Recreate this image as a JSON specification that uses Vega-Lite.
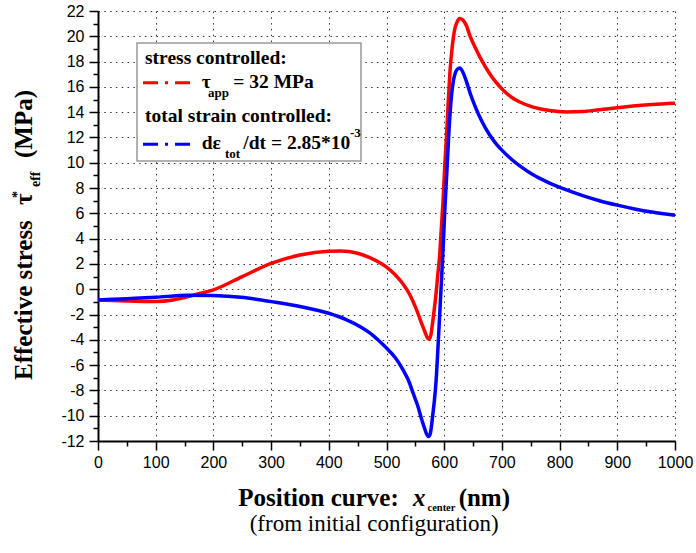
{
  "$schema": "https://vega.github.io/schema/vega-lite/v6.json",
  "width": 577,
  "height": 430,
  "autosize": {"type": "none"},
  "padding": {"left": 98, "top": 11, "right": 21, "bottom": 112},
  "background": "white",
  "config": {"view": {"stroke": null}},
  "resolve": {"axis": {"x": "independent", "y": "independent"}},
  "datasets": {
    "curves": [
      {"s": "stress", "x": 0, "y": -0.85}, {"s": "stress", "x": 50, "y": -0.93}, {"s": "stress", "x": 100, "y": -0.97},
      {"s": "stress", "x": 130, "y": -0.85}, {"s": "stress", "x": 150, "y": -0.65}, {"s": "stress", "x": 175, "y": -0.35},
      {"s": "stress", "x": 200, "y": -0.05}, {"s": "stress", "x": 250, "y": 1.0}, {"s": "stress", "x": 300, "y": 2.05},
      {"s": "stress", "x": 350, "y": 2.7}, {"s": "stress", "x": 400, "y": 3.0}, {"s": "stress", "x": 420, "y": 3.02},
      {"s": "stress", "x": 450, "y": 2.85}, {"s": "stress", "x": 471, "y": 2.5}, {"s": "stress", "x": 490, "y": 2.05},
      {"s": "stress", "x": 500, "y": 1.75}, {"s": "stress", "x": 515, "y": 1.15}, {"s": "stress", "x": 529, "y": 0.4},
      {"s": "stress", "x": 540, "y": -0.4}, {"s": "stress", "x": 551, "y": -1.5}, {"s": "stress", "x": 560, "y": -2.6},
      {"s": "stress", "x": 566, "y": -3.3}, {"s": "stress", "x": 571, "y": -3.85}, {"s": "stress", "x": 574, "y": -3.95},
      {"s": "stress", "x": 577, "y": -3.6}, {"s": "stress", "x": 580, "y": -2.6}, {"s": "stress", "x": 583, "y": -1.5},
      {"s": "stress", "x": 586, "y": -0.3}, {"s": "stress", "x": 589, "y": 1.2}, {"s": "stress", "x": 592, "y": 2.6},
      {"s": "stress", "x": 595, "y": 4.8}, {"s": "stress", "x": 598, "y": 7.0}, {"s": "stress", "x": 601, "y": 9.8},
      {"s": "stress", "x": 604.5, "y": 12.5}, {"s": "stress", "x": 607, "y": 14.8}, {"s": "stress", "x": 610, "y": 17.2},
      {"s": "stress", "x": 614, "y": 19.2}, {"s": "stress", "x": 618, "y": 20.5}, {"s": "stress", "x": 622, "y": 21.1},
      {"s": "stress", "x": 627, "y": 21.4}, {"s": "stress", "x": 632, "y": 21.3}, {"s": "stress", "x": 638, "y": 20.9},
      {"s": "stress", "x": 645, "y": 20.0}, {"s": "stress", "x": 655, "y": 19.0}, {"s": "stress", "x": 665, "y": 18.1},
      {"s": "stress", "x": 678, "y": 17.1}, {"s": "stress", "x": 690, "y": 16.35}, {"s": "stress", "x": 702, "y": 15.75},
      {"s": "stress", "x": 716, "y": 15.2}, {"s": "stress", "x": 731, "y": 14.8}, {"s": "stress", "x": 754, "y": 14.4},
      {"s": "stress", "x": 780, "y": 14.15}, {"s": "stress", "x": 812, "y": 14.02}, {"s": "stress", "x": 840, "y": 14.05},
      {"s": "stress", "x": 869, "y": 14.2}, {"s": "stress", "x": 900, "y": 14.35}, {"s": "stress", "x": 927, "y": 14.48},
      {"s": "stress", "x": 960, "y": 14.6}, {"s": "stress", "x": 1000, "y": 14.7},
      {"s": "strain", "x": 0, "y": -0.85}, {"s": "strain", "x": 50, "y": -0.75}, {"s": "strain", "x": 100, "y": -0.64},
      {"s": "strain", "x": 155, "y": -0.47}, {"s": "strain", "x": 200, "y": -0.5}, {"s": "strain", "x": 248, "y": -0.64},
      {"s": "strain", "x": 300, "y": -0.98}, {"s": "strain", "x": 352, "y": -1.38}, {"s": "strain", "x": 400, "y": -1.9},
      {"s": "strain", "x": 430, "y": -2.4}, {"s": "strain", "x": 456, "y": -3.0}, {"s": "strain", "x": 471, "y": -3.45},
      {"s": "strain", "x": 485, "y": -4.0}, {"s": "strain", "x": 500, "y": -4.65}, {"s": "strain", "x": 515, "y": -5.4},
      {"s": "strain", "x": 529, "y": -6.4}, {"s": "strain", "x": 538, "y": -7.2}, {"s": "strain", "x": 546, "y": -8.2},
      {"s": "strain", "x": 554, "y": -9.2}, {"s": "strain", "x": 561, "y": -10.3}, {"s": "strain", "x": 566, "y": -11.0},
      {"s": "strain", "x": 570, "y": -11.5}, {"s": "strain", "x": 573, "y": -11.65}, {"s": "strain", "x": 576, "y": -11.4},
      {"s": "strain", "x": 578, "y": -10.8}, {"s": "strain", "x": 580, "y": -10.0}, {"s": "strain", "x": 583, "y": -8.8},
      {"s": "strain", "x": 586, "y": -7.2}, {"s": "strain", "x": 589, "y": -4.8}, {"s": "strain", "x": 592, "y": -2.2},
      {"s": "strain", "x": 595, "y": 0.5}, {"s": "strain", "x": 598, "y": 3.1}, {"s": "strain", "x": 601, "y": 6.2},
      {"s": "strain", "x": 604.5, "y": 9.2}, {"s": "strain", "x": 608, "y": 12.3}, {"s": "strain", "x": 612, "y": 15.0},
      {"s": "strain", "x": 616, "y": 16.5}, {"s": "strain", "x": 620, "y": 17.2}, {"s": "strain", "x": 624, "y": 17.45},
      {"s": "strain", "x": 627, "y": 17.5}, {"s": "strain", "x": 632, "y": 17.2}, {"s": "strain", "x": 638, "y": 16.5},
      {"s": "strain", "x": 645, "y": 15.5}, {"s": "strain", "x": 655, "y": 14.3}, {"s": "strain", "x": 665, "y": 13.3},
      {"s": "strain", "x": 678, "y": 12.25}, {"s": "strain", "x": 690, "y": 11.5}, {"s": "strain", "x": 702, "y": 10.9},
      {"s": "strain", "x": 716, "y": 10.3}, {"s": "strain", "x": 731, "y": 9.75}, {"s": "strain", "x": 754, "y": 9.05},
      {"s": "strain", "x": 780, "y": 8.45}, {"s": "strain", "x": 812, "y": 7.85}, {"s": "strain", "x": 840, "y": 7.4},
      {"s": "strain", "x": 869, "y": 7.0}, {"s": "strain", "x": 900, "y": 6.65}, {"s": "strain", "x": 930, "y": 6.35},
      {"s": "strain", "x": 960, "y": 6.1}, {"s": "strain", "x": 1000, "y": 5.85}
    ],
    "legendBox": [{"x1": 67.6, "x2": 455.8, "y1": 19.47, "y2": 10.14}],
    "legendLines": [
      {"s": "stress", "x1": 78, "x2": 162.9, "y": 16.33},
      {"s": "strain", "x1": 78, "x2": 162.9, "y": 11.46}
    ],
    "legendText": [
      {"t": "stress controlled:", "x": 81.5, "y": 17.81},
      {"t": "τ", "x": 179.7, "y": 15.89},
      {"t": "= 32 MPa", "x": 234.5, "y": 15.89},
      {"t": "total strain controlled:", "x": 81.5, "y": 13.25},
      {"t": "dε", "x": 179.7, "y": 11.06},
      {"t": "/dt = 2.85*10", "x": 251.8, "y": 11.06}
    ],
    "legendSub": [
      {"t": "app", "x": 190.6, "y": 15.18},
      {"t": "tot", "x": 220.1, "y": 10.35},
      {"t": "-3", "x": 436.7, "y": 12.04}
    ],
    "xTitle": [
      {"t": "Position curve:", "x": 243.2, "y": -17.14},
      {"t": "(nm)", "x": 625, "y": -17.14}
    ],
    "xTitleItalic": [{"t": "x", "x": 546, "y": -17.14}],
    "xTitleSub": [{"t": "center", "x": 571, "y": -17.52}],
    "xSubtitle": [{"t": "(from initial configuration)", "x": 478.7, "y": -19.15}],
    "yTitle": [
      {"t": "Effective stress", "x": -114.4, "y": -7.18},
      {"t": "τ", "x": -114.4, "y": 6.66},
      {"t": "(MPa)", "x": -114.4, "y": 10.38}
    ],
    "yTitleSub": [
      {"t": "eff", "x": -100.5, "y": 8.08},
      {"t": "*", "x": -131.7, "y": 7.21}
    ]
  },
  "layer": [
    {
      "data": {"name": "curves"},
      "mark": {"type": "line", "strokeWidth": 3.5, "clip": true, "interpolate": "monotone"},
      "encoding": {
        "x": {
          "field": "x", "type": "quantitative",
          "scale": {"domain": [0, 1000], "nice": false, "zero": false},
          "axis": {
            "title": null, "orient": "bottom",
            "values": [0,100,200,300,400,500,600,700,800,900,1000],
            "labelExpr": "'' + datum.value",
            "labelOverlap": false, "labelFlush": false,
            "labelFont": "Liberation Sans", "labelFontSize": 16, "labelColor": "#000", "labelPadding": 4,
            "domainColor": "#000", "domainWidth": 2,
            "tickColor": "#000", "tickWidth": 1.5, "tickSize": 9,
            "grid": true, "gridColor": "#333", "gridDash": [1.5, 4.3], "gridWidth": 1
          }
        },
        "y": {
          "field": "y", "type": "quantitative",
          "scale": {"domain": [-12, 22], "nice": false, "zero": false},
          "axis": {
            "title": null, "orient": "left",
            "values": [-12,-10,-8,-6,-4,-2,0,2,4,6,8,10,12,14,16,18,20,22],
            "labelExpr": "'' + datum.value",
            "labelOverlap": false, "labelFlush": false,
            "labelFont": "Liberation Sans", "labelFontSize": 16, "labelColor": "#000", "labelPadding": 5,
            "domainColor": "#000", "domainWidth": 2,
            "tickColor": "#000", "tickWidth": 1.5, "tickSize": 9,
            "grid": true, "gridColor": "#333", "gridDash": [1.5, 4.3], "gridWidth": 1
          }
        },
        "color": {
          "field": "s", "type": "nominal",
          "scale": {"domain": ["stress", "strain"], "range": ["#ff0000", "#0000ff"]},
          "legend": null
        },
        "order": {"field": "x", "type": "quantitative"}
      }
    },
    {
      "data": {"name": "legendBox"},
      "mark": {"type": "rect", "fill": "white", "stroke": "#999", "strokeWidth": 1.5},
      "encoding": {
        "x": {"field": "x1", "type": "quantitative", "axis": {
          "title": null, "orient": "bottom",
          "values": [50,150,250,350,450,550,650,750,850,950],
          "labels": false, "domain": false, "grid": false,
          "tickColor": "#000", "tickWidth": 1.5, "tickSize": 5
        }},
        "x2": {"field": "x2"},
        "y": {"field": "y1", "type": "quantitative", "axis": {
          "title": null, "orient": "left",
          "values": [-11,-9,-7,-5,-3,-1,1,3,5,7,9,11,13,15,17,19,21],
          "labels": false, "domain": false, "grid": false,
          "tickColor": "#000", "tickWidth": 1.5, "tickSize": 5
        }},
        "y2": {"field": "y2"}
      }
    },
    {
      "data": {"name": "legendLines"},
      "mark": {"type": "rule", "strokeWidth": 3, "strokeDash": [15, 7, 3, 7]},
      "encoding": {
        "x": {"field": "x1", "type": "quantitative", "axis": null},
        "x2": {"field": "x2"},
        "y": {"field": "y", "type": "quantitative", "axis": null},
        "color": {"field": "s", "type": "nominal", "legend": null}
      }
    },
    {
      "data": {"name": "legendText"},
      "mark": {"type": "text", "font": "Liberation Serif", "fontWeight": "bold", "fontSize": 19.5, "align": "left", "baseline": "alphabetic", "color": "#000"},
      "encoding": {
        "x": {"field": "x", "type": "quantitative", "axis": null},
        "y": {"field": "y", "type": "quantitative", "axis": null},
        "text": {"field": "t"}
      }
    },
    {
      "data": {"name": "legendSub"},
      "mark": {"type": "text", "font": "Liberation Serif", "fontWeight": "bold", "fontSize": 13, "align": "left", "baseline": "alphabetic", "color": "#000"},
      "encoding": {
        "x": {"field": "x", "type": "quantitative", "axis": null},
        "y": {"field": "y", "type": "quantitative", "axis": null},
        "text": {"field": "t"}
      }
    },
    {
      "data": {"name": "xTitle"},
      "mark": {"type": "text", "font": "Liberation Serif", "fontWeight": "bold", "fontSize": 25, "align": "left", "baseline": "alphabetic", "color": "#000"},
      "encoding": {
        "x": {"field": "x", "type": "quantitative", "axis": null},
        "y": {"field": "y", "type": "quantitative", "axis": null},
        "text": {"field": "t"}
      }
    },
    {
      "data": {"name": "xTitleItalic"},
      "mark": {"type": "text", "font": "Liberation Serif", "fontWeight": "bold", "fontStyle": "italic", "fontSize": 25, "align": "left", "baseline": "alphabetic", "color": "#000"},
      "encoding": {
        "x": {"field": "x", "type": "quantitative", "axis": null},
        "y": {"field": "y", "type": "quantitative", "axis": null},
        "text": {"field": "t"}
      }
    },
    {
      "data": {"name": "xTitleSub"},
      "mark": {"type": "text", "font": "Liberation Serif", "fontWeight": "bold", "fontSize": 10.5, "align": "left", "baseline": "alphabetic", "color": "#000"},
      "encoding": {
        "x": {"field": "x", "type": "quantitative", "axis": null},
        "y": {"field": "y", "type": "quantitative", "axis": null},
        "text": {"field": "t"}
      }
    },
    {
      "data": {"name": "xSubtitle"},
      "mark": {"type": "text", "font": "Liberation Serif", "fontSize": 23, "align": "center", "baseline": "alphabetic", "color": "#000"},
      "encoding": {
        "x": {"field": "x", "type": "quantitative", "axis": null},
        "y": {"field": "y", "type": "quantitative", "axis": null},
        "text": {"field": "t"}
      }
    },
    {
      "data": {"name": "yTitle"},
      "mark": {"type": "text", "font": "Liberation Serif", "fontWeight": "bold", "fontSize": 25, "angle": 270, "align": "left", "baseline": "alphabetic", "color": "#000"},
      "encoding": {
        "x": {"field": "x", "type": "quantitative", "axis": null},
        "y": {"field": "y", "type": "quantitative", "axis": null},
        "text": {"field": "t"}
      }
    },
    {
      "data": {"name": "yTitleSub"},
      "mark": {"type": "text", "font": "Liberation Serif", "fontWeight": "bold", "fontSize": 14, "angle": 270, "align": "left", "baseline": "alphabetic", "color": "#000"},
      "encoding": {
        "x": {"field": "x", "type": "quantitative", "axis": null},
        "y": {"field": "y", "type": "quantitative", "axis": null},
        "text": {"field": "t"}
      }
    }
  ]
}
